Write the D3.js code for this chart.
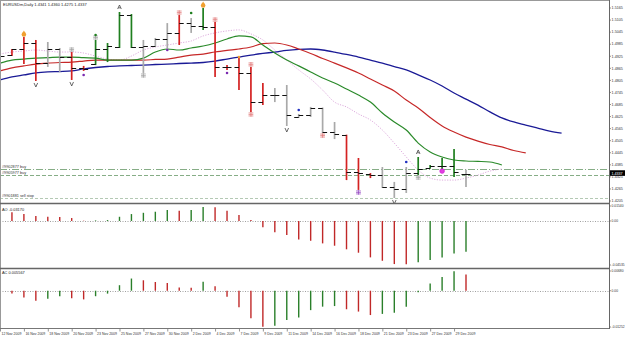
<!DOCTYPE html>
<html><head><meta charset="utf-8">
<script src="https://cdn.jsdelivr.net/npm/d3@7"></script>
<style>html,body{margin:0;padding:0;background:#fff;overflow:hidden}svg{display:block}text{font-family:"Liberation Sans",Arial,sans-serif}</style>
</head><body><svg id="c" width="625" height="338"></svg>
<script>
// ---------------- DATA ----------------
const symbolTitle = "EURUSDm,Daily";
const dateLabels = ["12 Nov 2009","16 Nov 2009","18 Nov 2009","20 Nov 2009","23 Nov 2009","25 Nov 2009","27 Nov 2009","30 Nov 2009","2 Dec 2009","4 Dec 2009","7 Dec 2009","9 Dec 2009","11 Dec 2009","14 Dec 2009","16 Dec 2009","18 Dec 2009","21 Dec 2009","23 Dec 2009","27 Dec 2009","29 Dec 2009"];
const openP  = [1.4877,1.4931,1.4961,1.4991,1.4891,1.4961,1.4921,1.4867,1.4886,1.4961,1.4971,1.5130,1.4971,1.4976,1.5011,1.5041,1.5090,1.5075,1.5070,1.4872,1.4872,1.4842,1.4697,1.4732,1.4732,1.4623,1.4633,1.4668,1.4548,1.4533,1.4349,1.4339,1.4334,1.4275,1.4265,1.4344,1.4369,1.4379,1.4379,1.4341];
const highP  = [1.4931,1.4961,1.5021,1.5006,1.4996,1.4966,1.4946,1.4877,1.5006,1.4991,1.5145,1.5135,1.5006,1.5016,1.5090,1.5130,1.5115,1.5165,1.5095,1.4881,1.4921,1.4872,1.4792,1.4767,1.4782,1.4638,1.4673,1.4670,1.4598,1.4535,1.4419,1.4344,1.4374,1.4300,1.4374,1.4424,1.4384,1.4419,1.4464,1.4360];
const lowP   = [1.4867,1.4926,1.4886,1.4802,1.4872,1.4847,1.4807,1.4852,1.4881,1.4896,1.4966,1.4966,1.4842,1.4971,1.4961,1.4981,1.5041,1.5056,1.4822,1.4857,1.4757,1.4648,1.4682,1.4697,1.4578,1.4618,1.4623,1.4543,1.4513,1.4309,1.4260,1.4319,1.4270,1.4220,1.4245,1.4334,1.4366,1.4349,1.4324,1.4275];
const closeP = [1.4926,1.4961,1.4991,1.4891,1.4961,1.4921,1.4867,1.4862,1.4961,1.4976,1.5130,1.4971,1.4976,1.5011,1.5041,1.5090,1.5075,1.5070,1.4872,1.4872,1.4842,1.4697,1.4732,1.4732,1.4633,1.4633,1.4668,1.4548,1.4538,1.4349,1.4344,1.4334,1.4275,1.4265,1.4344,1.4364,1.4379,1.4379,1.4349,1.4337];
// Alligator-style moving averages (shifted into the future)
const jawBlue  = [1.4807,1.4822,1.4832,1.4842,1.4847,1.4849,1.4852,1.4862,1.4869,1.4874,1.4877,1.4879,1.4881,1.4884,1.4886,1.4889,1.4891,1.4894,1.4901,1.4911,1.4921,1.4931,1.4939,1.4946,1.4954,1.4959,1.4961,1.4956,1.4946,1.4934,1.4921,1.4906,1.4891,1.4874,1.4857,1.4832,1.4807,1.4777,1.4742,1.4712,1.4682,1.4648,1.4618,1.4598,1.4583,1.4568,1.4553,1.4543];
const teethRed = [1.4852,1.4867,1.4877,1.4886,1.4891,1.4894,1.4896,1.4901,1.4906,1.4906,1.4906,1.4906,1.4906,1.4909,1.4911,1.4921,1.4931,1.4936,1.4946,1.4954,1.4961,1.4971,1.4988,1.4991,1.4981,1.4961,1.4939,1.4914,1.4891,1.4867,1.4842,1.4812,1.4782,1.4752,1.4707,1.4668,1.4620,1.4578,1.4548,1.4523,1.4503,1.4486,1.4474,1.4456,1.4444];
const lipsGreen= [1.4891,1.4906,1.4911,1.4916,1.4918,1.4921,1.4921,1.4918,1.4916,1.4906,1.4906,1.4906,1.4916,1.4946,1.4961,1.4956,1.4966,1.4976,1.4991,1.5011,1.5026,1.5021,1.4981,1.4941,1.4906,1.4877,1.4847,1.4817,1.4792,1.4762,1.4732,1.4697,1.4643,1.4598,1.4558,1.4493,1.4449,1.4424,1.4409,1.4404,1.4402,1.4399,1.4384];
const maPink   = [1.4936,1.4946,1.4951,1.4956,1.4951,1.4946,1.4946,1.4941,1.4926,1.4911,1.4906,1.4926,1.4956,1.4971,1.4981,1.4991,1.5001,1.5026,1.5041,1.5051,1.5056,1.5036,1.5006,1.4956,1.4906,1.4857,1.4812,1.4757,1.4697,1.4673,1.4638,1.4608,1.4558,1.4493,1.4424,1.4359,1.4319,1.4309,1.4309,1.4319,1.4334,1.4354,1.4364];
const aoValues = [0.0095,0.0089,0.0071,0.0050,0.0043,0.0040,0.0030,0.0003,0.0006,0.0010,0.0043,0.0071,0.0084,0.0095,0.0112,0.0105,0.0112,0.0143,0.0140,0.0105,0.0061,0.0009,-0.0066,-0.0117,-0.0145,-0.0190,-0.0204,-0.0231,-0.0255,-0.0292,-0.0327,-0.0375,-0.0410,-0.0444,-0.0447,-0.0426,-0.0403,-0.0375,-0.0334,-0.0317];
const acValues = [-0.0002,-0.0010,-0.0023,-0.0035,-0.0028,-0.0019,-0.0026,-0.0030,-0.0019,-0.0010,0.0019,0.0042,0.0036,0.0030,0.0027,0.0011,0.0010,0.0031,0.0015,-0.0021,-0.0057,-0.0095,-0.0124,-0.0121,-0.0101,-0.0092,-0.0067,-0.0055,-0.0053,-0.0064,-0.0072,-0.0084,-0.0080,-0.0076,-0.0055,-0.0005,0.0025,0.0047,0.0067,0.005567];
const aoPrior = 0.0102, acPrior = 0.0003;
const priceTicks = [1.5165,1.5105,1.5045,1.4985,1.4925,1.4865,1.4805,1.4745,1.4685,1.4625,1.4565,1.4505,1.4445,1.4385,1.4325,1.4265,1.4205];
const aoTicks = [0.01540, 0, -0.04535];
const acTicks = [0.00680, 0, -0.01252];
const orderPrices = [1.4364, 1.4334, 1.4220];
const orderLabels = ["#9902877 buy", "#9905977 buy", "#9901881 sell stop"];
const fractalUp = [10, 35];
const fractalDown = [3, 6, 24, 33];
const iconsTop = [{i:2,k:"alert"},{i:6,k:"mark"},{i:8,k:"mark"},{i:15,k:"sig"},{i:17,k:"alert"},{i:18,k:"sig"},{i:21,k:"sig"}];
const iconsBottom = [{i:12,k:"mark"},{i:21,k:"sig"},{i:27,k:"sig"},{i:30,k:"violet"},{i:35,k:"mark"}];
const dots = [{i:7,p:1.4832,k:"violet"},{i:8,p:1.5031,k:"green"},{i:14,p:1.4956,k:"violet"},{i:16,p:1.5140,k:"green"},{i:19,p:1.4842,k:"violet"},{i:20,p:1.4921,k:"orange"},{i:25,p:1.4658,k:"blue"},{i:34,p:1.4399,k:"blue"},{i:37,p:1.4354,k:"magenta"}];

// ---------------- DRAW ----------------
const svg = d3.select("#c");
const AX = 609;
const x = d3.scaleLinear().domain([0, 39]).range([0, 466]);
const y = d3.scaleLinear().domain([1.4205, 1.5165]).range([201, 8]);
const yAO = d3.scaleLinear().domain([-0.04535, 0.01540]).range([265, 206]);
const yAC = d3.scaleLinear().domain([-0.01252, 0.00680]).range([327, 271]);
const n = closeP.length;

const defs = svg.append("defs");
[["cm",0,203],["ca",204,64],["cc",269,59]].forEach(([id,y0,h])=>{
  defs.append("clipPath").attr("id",id).append("rect").attr("x",0).attr("y",y0).attr("width",AX).attr("height",h);
});
svg.append("rect").attr("width",625).attr("height",338).attr("fill","#fff");

// zones (Profitunity colouring from AO/AC direction)
const zone = d3.range(n).map(i=>{
  const aoUp = aoValues[i] > (i ? aoValues[i-1] : aoPrior);
  const acUp = acValues[i] > (i ? acValues[i-1] : acPrior);
  return aoUp && acUp ? "g" : (!aoUp && !acUp ? "r" : "n");
});
const zoneCol = {g:"#1f7f1f", r:"#d42222", n:"#a9a9a9"};

const main = svg.append("g").attr("clip-path","url(#cm)");

// order lines
const orderStyle = [{d:"7,2,1,2",c:"#86ad86"},{d:"4,2",c:"#86ad86"},{d:"3,2",c:"#b4c9b4"}];
orderPrices.forEach((p,k)=>{
  main.append("line").attr("x1",0).attr("x2",AX).attr("y1",Math.round(y(p))+0.5).attr("y2",Math.round(y(p))+0.5)
    .attr("stroke",orderStyle[k].c).attr("stroke-width",1).attr("stroke-dasharray",orderStyle[k].d);
  main.append("text").attr("x",2).attr("y",Math.round(y(p))-1).attr("font-size",3.8).attr("fill","#333").text(orderLabels[k]);
});

// MA lines
const lineGen = d3.line().x((d,i)=>x(i)).y(d=>y(d)).curve(d3.curveMonotoneX);
main.append("path").attr("d",lineGen(maPink)).attr("fill","none").attr("stroke","#d9a3d9").attr("stroke-width",0.9).attr("stroke-dasharray","1.2,1.4");
main.append("path").attr("d",lineGen(jawBlue)).attr("fill","none").attr("stroke","#1a1a96").attr("stroke-width",1.3);
main.append("path").attr("d",lineGen(teethRed)).attr("fill","none").attr("stroke","#c62828").attr("stroke-width",1.2);
main.append("path").attr("d",lineGen(lipsGreen)).attr("fill","none").attr("stroke","#2a8a2a").attr("stroke-width",1.2);

// bars
const bars = main.append("g");
d3.range(n).forEach(i=>{
  const cx = x(i);
  bars.append("line").attr("x1",cx).attr("x2",cx).attr("y1",y(highP[i])).attr("y2",y(lowP[i]))
    .attr("stroke",zoneCol[zone[i]]).attr("stroke-width",1.7);
  bars.append("line").attr("x1",cx-4.5).attr("x2",cx).attr("y1",Math.round(y(openP[i]))+0.5).attr("y2",Math.round(y(openP[i]))+0.5)
    .attr("stroke","#111").attr("stroke-width",1);
  bars.append("line").attr("x1",cx).attr("x2",cx+4.5).attr("y1",Math.round(y(closeP[i]))+0.5).attr("y2",Math.round(y(closeP[i]))+0.5)
    .attr("stroke","#111").attr("stroke-width",1);
});

// fractals
fractalUp.forEach(i=>{
  const cx=x(i), cy=y(highP[i])-5;
  main.append("path").attr("d",`M${cx-1.8},${cy+2} L${cx},${cy-2} L${cx+1.8},${cy+2} M${cx-1},${cy+0.8} L${cx+1},${cy+0.8}`).attr("fill","none").attr("stroke","#444").attr("stroke-width",0.8);
});
fractalDown.forEach(i=>{
  const cx=x(i), cy=y(lowP[i])+4;
  main.append("path").attr("d",`M${cx-1.8},${cy-2} L${cx},${cy+2} L${cx+1.8},${cy-2}`).attr("fill","none").attr("stroke","#444").attr("stroke-width",0.8);
});
const iconCol = {alert:"#f0a030", mark:"#9a9a9a", sig:"#e07070", violet:"#9040c0"};
function icon(cx, cy, k){
  if(k==="alert"){
    main.append("circle").attr("cx",cx).attr("cy",cy).attr("r",2.3).attr("fill",iconCol[k]);
    main.append("path").attr("d",`M${cx-1.5},${cy-1.5} L${cx},${cy-4} L${cx+1.5},${cy-1.5}`).attr("fill",iconCol[k]);
    return;
  }
  const g = main.append("g").attr("stroke",iconCol[k]).attr("stroke-width",0.7);
  [-1.5,0,1.5].forEach(dy=>g.append("line").attr("x1",cx-2.4).attr("x2",cx+2.4).attr("y1",cy+dy).attr("y2",cy+dy));
  g.append("line").attr("x1",cx).attr("x2",cx).attr("y1",cy-2.2).attr("y2",cy+2.2);
}
iconsTop.forEach(d=>icon(x(d.i), y(highP[d.i])-2.5, d.k));
iconsBottom.forEach(d=>icon(x(d.i), y(lowP[d.i])+2.5, d.k));
const dotCol = {violet:"#7a2ab0", green:"#1f7f1f", orange:"#f0a030", blue:"#2030c0", magenta:"#e040e0"};
dots.forEach(d=>{
  main.append("circle").attr("cx",x(d.i)).attr("cy",y(d.p)).attr("r",d.k==="magenta"?2.4:1.3).attr("fill",dotCol[d.k])
    .attr("stroke",d.k==="magenta"?"#c0c":"none").attr("stroke-width",0.5);
});

// title
svg.append("text").attr("x",3).attr("y",6).attr("font-size",4).attr("fill","#222")
  .text(`${symbolTitle}  ${[openP,highP,lowP,closeP].map(a=>a[n-1].toFixed(4)).join(" ")}`);

// AO / AC panels
function histo(vals, prior, ys, clip){
  const g = svg.append("g").attr("clip-path",`url(#${clip})`);
  g.append("line").attr("x1",0).attr("x2",AX).attr("y1",Math.round(ys(0))+0.5).attr("y2",Math.round(ys(0))+0.5)
    .attr("stroke","#888").attr("stroke-width",0.8).attr("stroke-dasharray","1,1.5");
  vals.forEach((v,i)=>{
    const up = v > (i ? vals[i-1] : prior);
    g.append("line").attr("x1",x(i)).attr("x2",x(i)).attr("y1",ys(0)).attr("y2",ys(v))
      .attr("stroke",up?"#2a7f2a":"#c02828").attr("stroke-width",1.4);
  });
}
histo(aoValues, aoPrior, yAO, "ca");
histo(acValues, acPrior, yAC, "cc");
svg.append("text").attr("x",2).attr("y",210.5).attr("font-size",3.9).attr("fill","#222").text("AO " + aoValues[n-1].toFixed(5));
svg.append("text").attr("x",2).attr("y",274).attr("font-size",3.9).attr("fill","#222").text("AC " + acValues[n-1].toFixed(6));

// frame & separators
svg.append("line").attr("x1",0).attr("x2",AX).attr("y1",0.5).attr("y2",0.5).attr("stroke","#999");
svg.append("line").attr("x1",0.5).attr("x2",0.5).attr("y1",0).attr("y2",328).attr("stroke","#999");
[203.5, 268.5].forEach(v=>svg.append("line").attr("x1",0).attr("x2",AX+1).attr("y1",v).attr("y2",v).attr("stroke","#666").attr("stroke-width",1.6));
svg.append("line").attr("x1",0).attr("x2",AX+1).attr("y1",328.5).attr("y2",328.5).attr("stroke","#777").attr("stroke-width",1);
svg.append("line").attr("x1",AX+0.5).attr("x2",AX+0.5).attr("y1",0).attr("y2",329).attr("stroke","#666").attr("stroke-width",1);

// right axes
function axisLabels(vals, ys, fmt, fs){
  vals.forEach(v=>{
    const yy = ys(v);
    svg.append("line").attr("x1",AX).attr("x2",AX+2).attr("y1",yy).attr("y2",yy).attr("stroke","#666").attr("stroke-width",0.7);
    svg.append("text").attr("x",AX+2.6).attr("y",yy+1.3).attr("font-size",fs).attr("fill","#333").text(fmt(v));
  });
}
axisLabels(priceTicks, y, v=>v.toFixed(4), 3.7);
axisLabels(aoTicks, yAO, v=>v===0?"0.00":v.toFixed(5), 3.3);
axisLabels(acTicks, yAC, v=>v===0?"0.00":v.toFixed(5), 3.3);

// current price box
const cp = closeP[n-1];
svg.append("rect").attr("x",AX+1).attr("y",y(cp)-4.2).attr("width",15).attr("height",5.6).attr("fill","#000");
svg.append("text").attr("x",AX+2.4).attr("y",y(cp)+0.2).attr("font-size",3.7).attr("fill","#fff").text(cp.toFixed(4));

// date axis
dateLabels.forEach((lab,k)=>{
  const xx = x(k*2);
  svg.append("line").attr("x1",xx+0.5).attr("x2",xx+0.5).attr("y1",329).attr("y2",331.5).attr("stroke","#666").attr("stroke-width",0.7);
  svg.append("text").attr("x",xx+1.5).attr("y",335).attr("font-size",3.5).attr("fill","#333").text(lab);
});
</script></body></html>
